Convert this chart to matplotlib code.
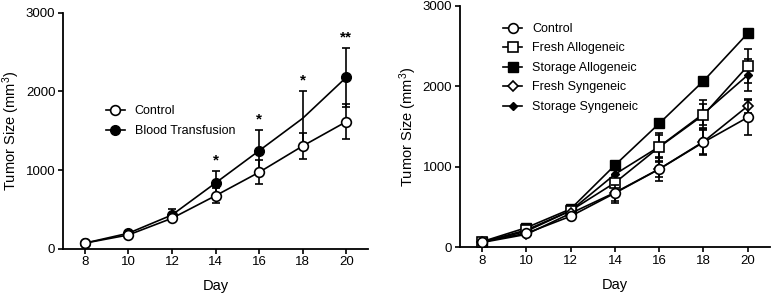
import matplotlib
matplotlib.use("Agg")
import matplotlib.pyplot as plt

plt.rcParams['font.family'] = ['Liberation Sans', 'DejaVu Sans']
plt.rcParams['mathtext.default'] = 'regular'

days = [8, 10, 12, 14, 16, 18, 20]

# left panel
control = [70, 174, 386, 673, 971, 1305, 1614]
control_err = [10, 15, 20, 96, 153, 160, 219]
transfusion = [70, 196, 428, 835, 1245, 1657, 2178]
transfusion_err = [10, 15, 72, 156, 263, 350, 377]
stars = ['', '', '', '*', '*', '*', '**']

# right panel
fresh_allo = [65, 215, 455, 802, 1245, 1644, 2252]
fresh_allo_err = [10, 20, 30, 100, 180, 130, 211]
storage_allo = [70, 244, 476, 1020, 1538, 2066, 2658]
storage_allo_err = [10, 15, 20, 25, 25, 25, 25]
fresh_syn = [60, 161, 422, 680, 973, 1312, 1755]
fresh_syn_err = [10, 15, 25, 130, 100, 150, 90]
storage_syn = [60, 200, 455, 907, 1250, 1660, 2140]
storage_syn_err = [10, 20, 30, 80, 145, 175, 200]

lw = 1.2
err_kw = dict(elinewidth=lw, capsize=3, capthick=lw, ecolor='black')


def style_axes(ax):
    ax.spines['top'].set_visible(False)
    ax.spines['right'].set_visible(False)
    ax.spines['left'].set_linewidth(1.3)
    ax.spines['bottom'].set_linewidth(1.3)
    ax.set_xlim(7, 21)
    ax.set_ylim(0, 3000)
    ax.set_xticks(days)
    ax.set_yticks([0, 1000, 2000, 3000])
    ax.tick_params(direction='out', length=3.5, width=1.2, labelsize=9.5, pad=2)
    ax.set_xlabel('Day', fontsize=10.5, labelpad=8)
    ax.set_ylabel('Tumor Size (mm$^{3}$)', fontsize=10.5, labelpad=3)


def add_legend(ax, anchor, spacing):
    handles, labels = ax.get_legend_handles_labels()
    # keep only line + marker (no error bar in the key)
    handles = [h[0] for h in handles]
    ax.legend(handles, labels, loc='upper left', bbox_to_anchor=anchor, frameon=False,
              fontsize=9, borderpad=0, handlelength=1.5, handletextpad=0.8,
              labelspacing=spacing)


fig = plt.figure(figsize=(7.73, 2.96), dpi=100)

# left chart
ax1 = fig.add_axes([0.0815, 0.16, 0.3946, 0.797])
ax1.errorbar(days, control, yerr=control_err, color='black', lw=lw, marker='o',
             ms=7, mfc='white', mec='black', mew=lw, label='Control', zorder=3, **err_kw)
ax1.errorbar(days, transfusion, yerr=transfusion_err, color='black', lw=lw, marker='o',
             ms=7, mfc='black', mec='black', markevery=[0, 1, 2, 3, 4, 6],
             label='Blood Transfusion', zorder=2, **err_kw)
for d, v, e, s in zip(days, transfusion, transfusion_err, stars):
    if s:
        ax1.text(d, v + e + 40, s, ha='center', va='bottom', fontsize=11, fontweight='bold')
style_axes(ax1)
add_legend(ax1, (0.12, 0.635), 0.65)

# right chart
ax2 = fig.add_axes([0.595, 0.1645, 0.401, 0.816])
ax2.errorbar(days, control, yerr=control_err, color='black', lw=lw, marker='o',
             ms=7, mfc='white', mec='black', mew=lw, label='Control', zorder=5, **err_kw)
ax2.errorbar(days, fresh_allo, yerr=fresh_allo_err, color='black', lw=lw, marker='s',
             ms=6.5, mfc='white', mec='black', mew=lw, label='Fresh Allogeneic', zorder=4, **err_kw)
ax2.errorbar(days, storage_allo, yerr=storage_allo_err, color='black', lw=lw, marker='s',
             ms=6.5, mfc='black', mec='black', label='Storage Allogeneic', zorder=3, **err_kw)
ax2.errorbar(days, fresh_syn, yerr=fresh_syn_err, color='black', lw=lw, marker='D',
             ms=5.5, mfc='white', mec='black', mew=lw, label='Fresh Syngeneic', zorder=4, **err_kw)
ax2.errorbar(days, storage_syn, yerr=storage_syn_err, color='black', lw=lw, marker='D',
             ms=4, mfc='black', mec='black', label='Storage Syngeneic', zorder=3, **err_kw)
style_axes(ax2)
add_legend(ax2, (0.12, 0.955), 0.6)

fig.savefig('out.png', dpi=100)
